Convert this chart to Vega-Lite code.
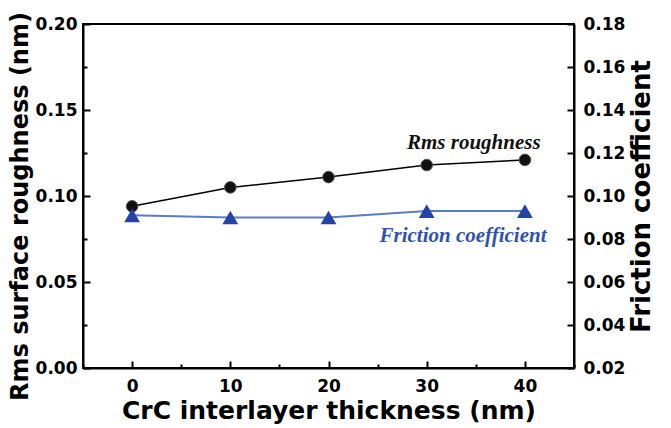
{
  "$schema": "https://vega.github.io/schema/vega-lite/v6.json",
  "width": 491,
  "height": 344,
  "autosize": "none",
  "padding": {"left": 83, "top": 24, "right": 97, "bottom": 60},
  "background": "white",
  "config": {
    "view": {"stroke": "black", "strokeWidth": 2},
    "axis": {
      "domainColor": "black",
      "domainWidth": 2,
      "tickColor": "black",
      "tickWidth": 2,
      "grid": false,
      "labelFont": "DejaVu Sans",
      "labelFontWeight": "bold",
      "labelFontSize": 17,
      "labelColor": "black",
      "titleFont": "DejaVu Sans",
      "titleFontWeight": "bold",
      "titleFontSize": 26,
      "titleColor": "black"
    }
  },
  "datasets": {
    "measurements": [
      {"thickness": 0, "roughness": 0.094, "friction": 0.091},
      {"thickness": 10, "roughness": 0.105, "friction": 0.090},
      {"thickness": 20, "roughness": 0.111, "friction": 0.090},
      {"thickness": 30, "roughness": 0.118, "friction": 0.093},
      {"thickness": 40, "roughness": 0.121, "friction": 0.093}
    ],
    "roughnessLabel": [
      {"thickness": 41.6, "roughness": 0.131, "text": "Rms roughness"}
    ],
    "frictionLabel": [
      {"thickness": 42.2, "friction": 0.0815, "text": "Friction coefficient"}
    ]
  },
  "data": {"name": "measurements"},
  "encoding": {
    "x": {
      "field": "thickness",
      "type": "quantitative",
      "scale": {"domain": [-5, 45], "nice": false},
      "axis": {
        "title": "CrC interlayer thickness (nm)",
        "titleFontSize": 25,
        "values": [-5, 0, 5, 10, 15, 20, 25, 30, 35, 40, 45],
        "labelExpr": "datum.value % 10 === 0 ? datum.label : ''",
        "tickSize": {"condition": {"test": "datum.value % 10 === 0", "value": -7}, "value": -4},
        "labelPadding": 17,
        "titlePadding": 4
      }
    }
  },
  "layer": [
    {
      "layer": [
        {
          "mark": {"type": "line", "color": "black", "strokeWidth": 1.5},
          "encoding": {
            "y": {
              "field": "roughness",
              "type": "quantitative",
              "scale": {"domain": [0, 0.2], "nice": false},
              "axis": {
                "title": "Rms surface roughness (nm)",
                "titleFontSize": 24,
                "titleY": 182,
                "orient": "left",
                "values": [0, 0.025, 0.05, 0.075, 0.1, 0.125, 0.15, 0.175, 0.2],
                "format": ".2f",
                "labelExpr": "abs(datum.value * 20 - round(datum.value * 20)) < 0.001 ? datum.label : ''",
                "tickSize": {"condition": {"test": "abs(datum.value * 20 - round(datum.value * 20)) < 0.001", "value": -7}, "value": -4},
                "labelPadding": 13,
                "titlePadding": 3
              }
            }
          }
        },
        {
          "mark": {"type": "point", "filled": true, "shape": "circle", "size": 135, "color": "#111111", "stroke": "#555555", "strokeWidth": 1, "opacity": 1},
          "encoding": {"y": {"field": "roughness", "type": "quantitative"}}
        },
        {
          "data": {"name": "roughnessLabel"},
          "mark": {"type": "text", "align": "right", "baseline": "middle", "font": "Liberation Serif", "fontStyle": "italic", "fontWeight": "bold", "fontSize": 21, "color": "#111111"},
          "encoding": {
            "y": {"field": "roughness", "type": "quantitative"},
            "text": {"field": "text"}
          }
        }
      ]
    },
    {
      "layer": [
        {
          "mark": {"type": "line", "color": "#5a7cc4", "strokeWidth": 2},
          "encoding": {
            "y": {
              "field": "friction",
              "type": "quantitative",
              "scale": {"domain": [0.02, 0.18], "nice": false},
              "axis": {
                "title": "Friction coefficient",
                "orient": "right",
                "titleAngle": 270,
                "titleBaseline": "top",
                "values": [0.02, 0.03, 0.04, 0.05, 0.06, 0.07, 0.08, 0.09, 0.1, 0.11, 0.12, 0.13, 0.14, 0.15, 0.16, 0.17, 0.18],
                "format": ".2f",
                "labelExpr": "abs(datum.value * 50 - round(datum.value * 50)) < 0.001 ? datum.label : ''",
                "tickSize": {"condition": {"test": "abs(datum.value * 50 - round(datum.value * 50)) < 0.001", "value": -7}, "value": -4},
                "labelPadding": 16,
                "titlePadding": 4
              }
            }
          }
        },
        {
          "mark": {"type": "point", "filled": true, "shape": "triangle-up", "size": 250, "color": "#2443a6", "opacity": 1},
          "encoding": {"y": {"field": "friction", "type": "quantitative"}}
        },
        {
          "data": {"name": "frictionLabel"},
          "mark": {"type": "text", "align": "right", "baseline": "middle", "font": "Liberation Serif", "fontStyle": "italic", "fontWeight": "bold", "fontSize": 21, "color": "#2f52b0"},
          "encoding": {
            "y": {"field": "friction", "type": "quantitative"},
            "text": {"field": "text"}
          }
        }
      ]
    }
  ],
  "resolve": {"scale": {"y": "independent"}}
}
